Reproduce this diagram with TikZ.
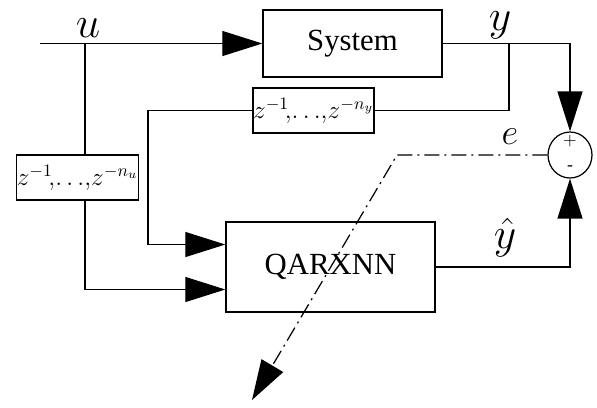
\documentclass[tikz,border=0pt]{standalone}
\usepackage{amsmath}
\usepackage{fontspec}
\setmainfont{Liberation Serif}
\usepackage{tikz}
\usetikzlibrary{arrows.meta,positioning,shapes.geometric}
\tikzset{
  box/.style ={draw, line width=0.8pt, inner sep=0pt, font=\fontsize{17.5}{20}\selectfont},
  dly/.style ={draw, line width=0.8pt, inner sep=0pt, minimum width=2.36cm, minimum height=0.9cm, font=\fontsize{14}{16}\selectfont},
  sig/.style ={inner sep=1pt, font=\fontsize{24}{26}\selectfont},
  arr/.style ={-{Triangle[length=0.8cm, width=0.5cm]}, line width=0.7pt},
  ln/.style  ={line width=0.7pt},
  dd/.style  ={line width=0.7pt, dash pattern=on 0.3cm off 0.1cm on 0.04cm off 0.1cm},
}
\begin{document}
\begin{tikzpicture}[x=0.02cm, y=-0.02cm]
  \useasboundingbox (0,0) rectangle (597,407);
  \node[box, minimum width=3.58cm, minimum height=1.34cm] (sys) at (352.5,43.5) {System};
  \node[box, minimum width=4.18cm, minimum height=1.8cm] (qnn) at (330.5,267) {QARXNN};
  \node[dly] (dlyy) at (313.5,110.5) {$z^{-1}\!,\!\ldots\!,\!z^{-n_y}$};
  \node[dly] (dlyu) at (77.5,177.5) {$z^{-1}\!,\!\ldots\!,\!z^{-n_u}$};
  \node[draw, ellipse, line width=0.7pt, minimum width=0.88cm, minimum height=0.92cm, inner sep=0pt] (sum) at (570,155) {};
  \node[font=\fontsize{10}{12}\selectfont] (plus) at (570,141) {$+$};
  \node[font=\fontsize{10}{12}\selectfont] (minus) at (570,168) {-};
  \coordinate (in) at (40,43.5);
  \coordinate (bu) at (85,43.5);
  \coordinate (by) at (509,43.5);
  \coordinate (fb) at (148,110.5);
  \coordinate (q1) at ([yshift=0.45cm]qnn.west);
  \coordinate (q2) at ([yshift=-0.45cm]qnn.west);
  \coordinate (ek) at (397,155);
  \coordinate (eo) at (252,400);
  % plant and regressors
  \draw[arr] (in) -- (sys.west);
  \draw[ln] (bu) -- (bu |- dlyu.north);
  \draw[arr] (bu |- dlyu.south) |- (q2);
  \draw[arr] (sys.east) -| (sum.north);
  \draw[ln] (by) |- (dlyy.east);
  \draw[arr] (dlyy.west) -| (fb) |- (q1);
  % model output and error
  \draw[arr] (qnn.east) -| (sum.south);
  \draw[dd, -{Triangle[length=0.8cm, width=0.5cm]}] (sum.west) -- (ek) -- (eo);
  \node[sig] (lu) at (88,28) {$u$};
  \node[sig] (ly) at (500,25) {$y$};
  \node[sig] (lyh) at (505,238) {$\hat{y}$};
  \node[sig, font=\fontsize{20}{22}\selectfont] (le) at (510,137) {$e$};
\end{tikzpicture}
\end{document}
